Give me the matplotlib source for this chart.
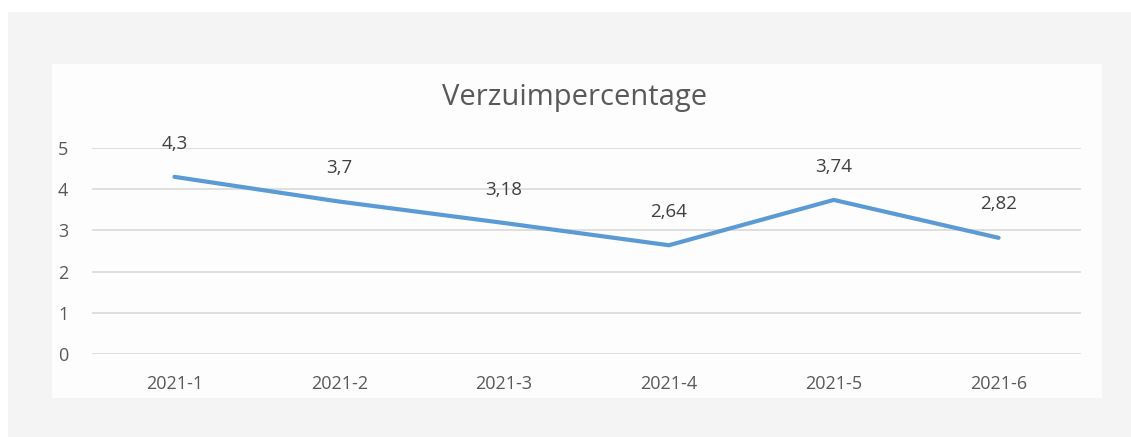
import matplotlib.pyplot as plt
from matplotlib.patches import Rectangle

# data
periods = ['2021-1', '2021-2', '2021-3', '2021-4', '2021-5', '2021-6']
verzuim = [4.3, 3.7, 3.18, 2.64, 3.74, 2.82]
labels = ['4,3', '3,7', '3,18', '2,64', '3,74', '2,82']
yticks = [0, 1, 2, 3, 4, 5]

W, H = 1131, 437
plt.rcParams['font.family'] = ['Open Sans', 'DejaVu Sans']
fig = plt.figure(figsize=(W/100, H/100), dpi=100)
fig.patch.set_facecolor('white')

# grey panel and white chart area behind the axes
fig.patches.append(Rectangle((8/W, 0), 1 - 8/W, 1 - 12/H, transform=fig.transFigure,
                             facecolor='#f4f4f4', edgecolor='none', zorder=-2))
fig.patches.append(Rectangle((52/W, 1 - 398/H), (1102-52)/W, (398-64)/H, transform=fig.transFigure,
                             facecolor='#fdfdfd', edgecolor='none', zorder=-1))

ax = fig.add_axes([92/W, 1 - 354/H, (1081-92)/W, (354-148)/H])
ax.set_facecolor('none')
x = range(len(periods))
ax.plot(x, verzuim, color='#5b9bd5', linewidth=3, solid_capstyle='round', zorder=3)
for xi, v, lab in zip(x, verzuim, labels):
    ax.annotate(lab, (xi, v), xytext=(0, 24), textcoords='offset points',
                ha='center', va='center', fontsize=13.5, color='#404040')

ax.set_xlim(-0.5, len(periods) - 0.5)
ax.set_ylim(0, 5)
ax.set_yticks(yticks)
ax.set_xticks(list(x))
ax.set_xticklabels(periods)
ax.tick_params(length=0, labelsize=13, colors='#595959')
ax.tick_params(axis='y', pad=17)
ax.tick_params(axis='x', pad=15)
ax.grid(axis='y', color='#d9d9d9', linewidth=1.2)
ax.set_axisbelow(True)
for s in ax.spines.values():
    s.set_visible(False)

fig.text(575/W, 1 - 97/H, 'Verzuimpercentage', ha='center', va='center',
         fontsize=21, color='#595959')

plt.savefig('out.png', dpi=100)
